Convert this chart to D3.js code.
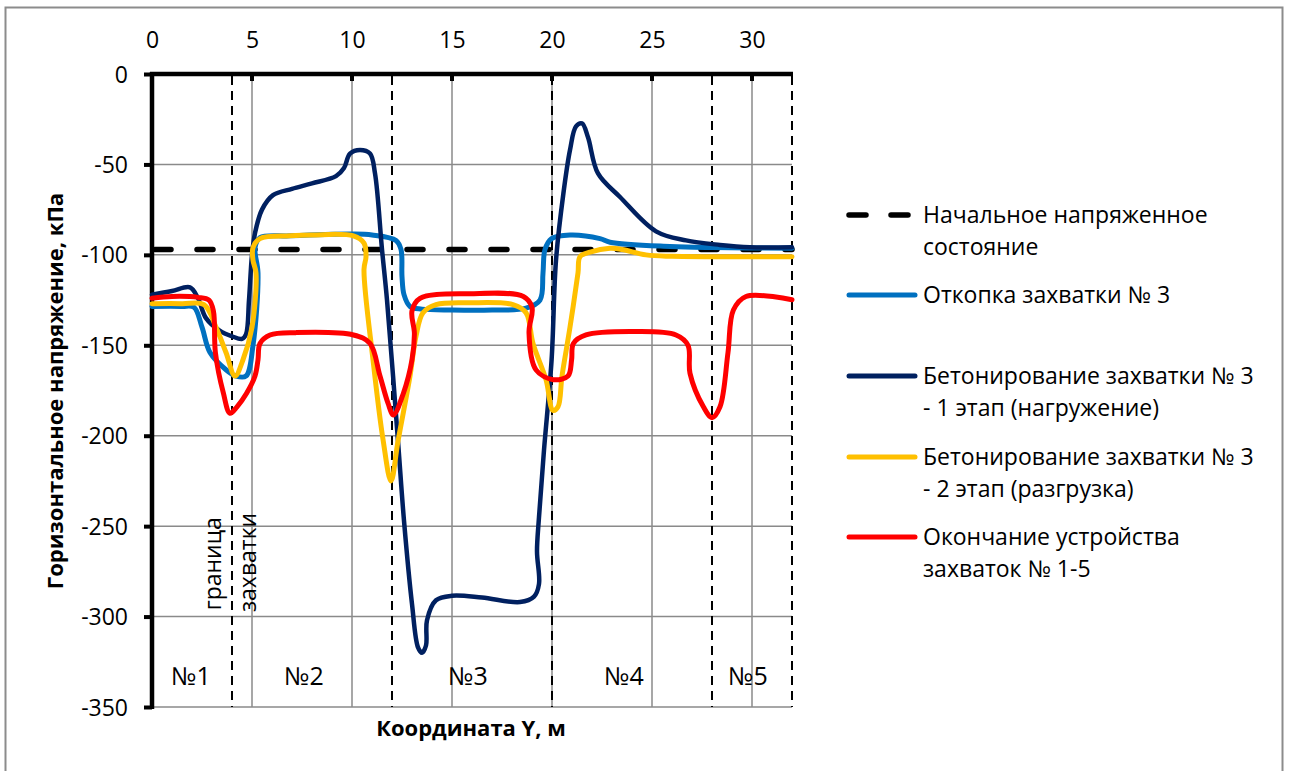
<!DOCTYPE html>
<html><head><meta charset="utf-8">
<script src="https://cdn.jsdelivr.net/npm/d3@7"></script>
<style>body{margin:0;background:#fff} text{font-family:"Open Sans",sans-serif;fill:#000}</style>
</head><body><svg id="c" width="1289" height="771"></svg>
<script>
// ---- data ----
const xTicks = [0, 5, 10, 15, 20, 25, 30];
const yTicks = [0, -50, -100, -150, -200, -250, -300, -350];
const zoneBounds = [4, 12, 20, 28, 32];
const zoneLabels = ["№1", "№2", "№3", "№4", "№5"];
const zoneCenters = [1.95, 7.6, 15.8, 23.6, 29.8];
const initialStress = -97;

const otkopkaX = [0,1.5,2.1,2.5,2.9,3.7,4.2,4.7,5.05,5.3,5.15,5.4,6.9,10,11.0,12.2,12.45,12.5,12.6,12.9,13.5,15,17,18.7,19.4,19.55,19.65,19.98,20.9,22.4,22.9,25.9,28,32];
const otkopkaY = [-128.5,-128.5,-129,-140,-154,-163.5,-167,-167,-150,-110,-96,-90.5,-89.5,-88.5,-89,-92,-97,-112,-122,-128.5,-130,-130.5,-130.5,-129.5,-125,-110,-97,-91,-89,-91,-93,-95.4,-96,-96.3];

const beton1X = [0,1,1.9,2.3,2.7,3.4,4.0,4.5,4.7,4.85,5.0,5.15,5.5,6.05,7.0,8.0,9.2,9.6,9.9,10.4,10.9,11.15,11.5,11.75,12.3,12.6,13.0,13.3,13.5,13.7,13.75,14.2,15,16.5,18.4,19.1,19.35,19.25,19.35,19.6,19.98,20.2,20.57,20.9,21.2,21.5,21.8,22.3,23.4,25.2,26.7,28.4,29.9,32];
const beton1Y = [-122,-120,-118,-124,-135,-142,-145,-146.5,-144,-125,-100,-88,-75,-67,-63.5,-60.5,-56.5,-52,-44,-42,-44,-55,-97,-125,-203,-247,-293,-317,-320,-316,-302,-291,-288.5,-289.5,-292,-289,-282,-264,-245,-208,-158,-103,-66,-42,-29,-27.3,-35,-55,-68,-87,-92,-94.5,-95.8,-95.8];

const beton2X = [0,1.5,2.6,3.2,3.7,4.15,4.55,5.0,5.2,5.05,5.05,5.4,6.9,8,10.07,10.6,10.7,10.6,11.05,11.55,11.95,12.3,12.9,13.2,13.55,14.2,15.9,18.05,18.7,19.05,19.7,20.05,20.3,20.5,20.9,21.3,21.4,21.9,22.9,23.5,24.7,26,32];
const beton2Y = [-127,-127,-127.5,-140,-154,-167,-158,-140,-110,-103,-96,-91,-89.5,-89,-89.5,-93.5,-101,-108,-158,-202,-225,-203,-167,-145,-132,-127.5,-126.5,-127.5,-132,-149,-169,-186,-184,-167,-140,-110,-101,-98.5,-96.4,-97,-100,-100.8,-101];

const okonchX = [0,1,2.3,2.85,3.07,3.17,3.57,3.9,4.25,4.73,5.15,5.3,5.4,5.9,7.2,10.07,10.9,11.4,11.8,12.07,12.57,13.0,13.12,13.0,13.4,15.9,18.57,19.0,18.85,19.2,20.07,20.8,20.98,21.07,21.7,24.2,26.2,26.8,26.9,27.57,28,28.4,28.8,29.07,29.7,32];
const okonchY = [-124,-123,-123.5,-125,-131,-154,-176.5,-187.6,-184,-176.5,-167,-158,-149,-144.3,-143,-144.3,-149,-167,-182,-188.5,-176.5,-158,-143.4,-131,-124,-121.5,-123,-129,-143,-163.6,-169,-167,-158,-149,-144.3,-142.4,-144.3,-150,-165.5,-184,-190,-184,-154,-130.5,-123,-124.8];

const legendLabels = [
  ["Начальное напряженное", "состояние"],
  ["Откопка захватки № 3"],
  ["Бетонирование захватки № 3", "- 1 этап (нагружение)"],
  ["Бетонирование захватки № 3", "- 2 этап (разгрузка)"],
  ["Окончание устройства", "захваток № 1-5"]
];
const seriesColors = ["#000000", "#0070C0", "#002060", "#FFC000", "#FF0000"];

// ---- layout ----
const svg = d3.select("#c");
const x = d3.scaleLinear().domain([0, 32]).range([152, 792]);
const y = d3.scaleLinear().domain([0, -350]).range([74, 707]);
const fmt = d => String(d);

svg.append("rect").attr("x", 5.5).attr("y", 7.5).attr("width", 1277).attr("height", 800)
  .attr("fill", "#fff").attr("stroke", "#8c8c8c").attr("stroke-width", 2);

const g = svg.append("g");
// grid
g.selectAll(".gx").data(xTicks.filter(d => d > 0)).join("line")
  .attr("x1", d => x(d)).attr("x2", d => x(d)).attr("y1", y(0)).attr("y2", y(-350))
  .attr("stroke", "#8a8a8a").attr("stroke-width", 1.5);
g.selectAll(".gy").data(yTicks.filter(d => d < 0)).join("line")
  .attr("x1", x(0)).attr("x2", x(32)).attr("y1", d => y(d)).attr("y2", d => y(d))
  .attr("stroke", "#8a8a8a").attr("stroke-width", 1.5);

// zone boundaries
g.selectAll(".zb").data(zoneBounds).join("line")
  .attr("x1", d => x(d)).attr("x2", d => x(d)).attr("y1", y(0) + 2).attr("y2", y(-350))
  .attr("stroke", "#000").attr("stroke-width", 2).attr("stroke-dasharray", "9,6");

// axes
const xAxis = d3.axisTop(x).tickValues(xTicks).tickSize(0).tickPadding(0).tickFormat(fmt);
const xa = svg.append("g").attr("transform", `translate(0,${y(0)})`).call(xAxis);
xa.select(".domain").remove();
xa.selectAll("text").attr("y", -26).style("font-size", "23px").attr("dy", "0");
xa.selectAll("line").remove();
svg.append("line").attr("x1", x(0) - 2).attr("x2", x(32) + 1).attr("y1", y(0)).attr("y2", y(0))
  .attr("stroke", "#000").attr("stroke-width", 4.5);
svg.selectAll(".xt").data(xTicks.filter(d => d > 0)).join("line")
  .attr("x1", d => x(d)).attr("x2", d => x(d)).attr("y1", y(0)).attr("y2", y(0) + 7)
  .attr("stroke", "#000").attr("stroke-width", 4);

const yAxis = d3.axisLeft(y).tickValues(yTicks).tickSize(8).tickPadding(16).tickFormat(fmt);
const ya = svg.append("g").attr("transform", `translate(${x(0)},0)`).call(yAxis);
ya.select(".domain").remove();
ya.selectAll("line").attr("stroke", "#000").attr("stroke-width", 4);
ya.selectAll("text").style("font-size", "23px").attr("dy", "0.35em");
svg.append("line").attr("x1", x(0)).attr("x2", x(0)).attr("y1", y(0) - 2).attr("y2", y(-350) + 2)
  .attr("stroke", "#000").attr("stroke-width", 4.5);

// zone labels
svg.selectAll(".zl").data(zoneLabels).join("text")
  .attr("x", (d, i) => x(zoneCenters[i])).attr("y", y(-333)).attr("dy", "0.35em")
  .attr("text-anchor", "middle").style("font-size", "25px").text(d => d);

// boundary label
svg.append("text").attr("transform", `translate(${x(3.05)},${y(-296.5)}) rotate(-90)`)
  .attr("dy", "0.35em").style("font-size", "23px").text("граница");
svg.append("text").attr("transform", `translate(${x(4.8)},${y(-297.5)}) rotate(-90)`)
  .attr("dy", "0.35em").style("font-size", "23px").text("захватки");

// series
const line = d3.line().x(d => x(d[0])).y(d => y(d[1])).curve(d3.curveCatmullRom.alpha(0.5));
const zip = (a, b) => a.map((v, i) => [v, b[i]]);
svg.append("path").datum([[0, initialStress], [32, initialStress]]).attr("d", line)
  .attr("fill", "none").attr("stroke", seriesColors[0]).attr("stroke-width", 5.5)
  .attr("stroke-dasharray", "16,26").attr("stroke-linecap", "round").attr("stroke-dashoffset", -3);
const series = [[otkopkaX, otkopkaY], [beton1X, beton1Y], [beton2X, beton2Y], [okonchX, okonchY]];
series.forEach((s, i) => {
  svg.append("path").datum(zip(s[0], s[1])).attr("d", line)
    .attr("fill", "none").attr("stroke", seriesColors[i + 1])
    .attr("stroke-width", i === 1 ? 4.5 : 5).attr("stroke-linejoin", "round").attr("stroke-linecap", "round");
});

// axis titles
svg.append("text").attr("x", 471).attr("y", 728).attr("dy", "0.35em").attr("text-anchor", "middle")
  .style("font-size", "22px").style("font-weight", "bold").text("Координата Y, м");
svg.append("text").attr("transform", "translate(55,391) rotate(-90)").attr("dy", "0.35em")
  .attr("text-anchor", "middle").style("font-size", "22px").style("font-weight", "bold")
  .text("Горизонтальное напряжение, кПа");

// legend
const legY = [215, 295, 376, 457, 537];
legendLabels.forEach((lab, i) => {
  const lg = svg.append("g");
  const ln = lg.append("line").attr("x1", 849).attr("x2", 915).attr("y1", legY[i]).attr("y2", legY[i])
    .attr("stroke", seriesColors[i]).attr("stroke-width", i === 0 ? 5.5 : 5).attr("stroke-linecap", "round");
  if (i === 0) ln.attr("stroke-dasharray", "17,25");
  lab.forEach((t, j) => {
    lg.append("text").attr("x", 923).attr("y", legY[i] + j * 32).attr("dy", "0.35em")
      .style("font-size", "23px").text(t);
  });
});
</script></body></html>
